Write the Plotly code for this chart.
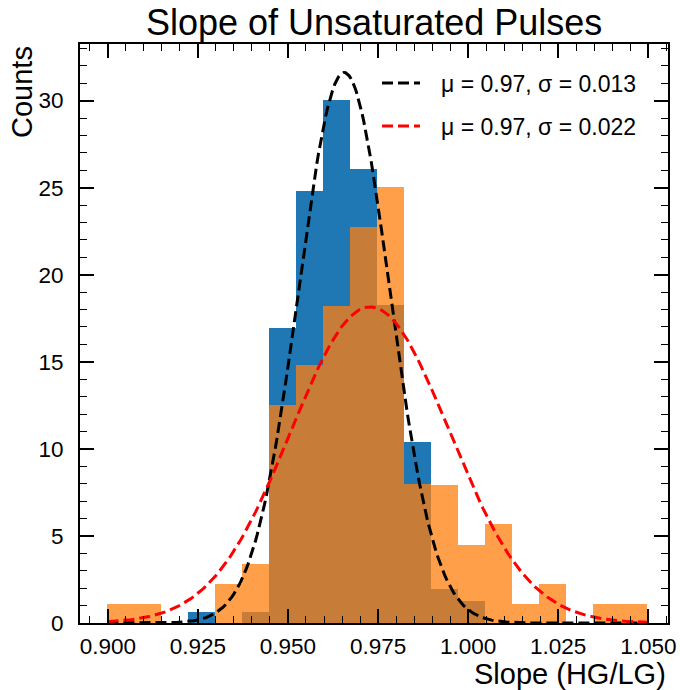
import numpy as np
import plotly.graph_objects as go

# ---- data ----
BIN_LO, BIN_HI, N_BINS = 0.8999, 1.0496, 20
# density heights per bin (blue = first sample, orange = second sample)
blue_heights = [0, 0, 0, 0.65, 0, 0.65, 16.94, 24.80, 30.03, 26.10, 18.26, 10.40,
                1.93, 1.25, 0, 0, 0, 0, 0, 0]
orange_heights = [1.12, 1.12, 0, 0, 2.26, 3.40, 12.51, 14.79, 18.23, 22.76, 25.06, 7.97,
                  7.95, 4.50, 5.66, 1.12, 2.26, 0, 1.12, 1.12]
# gaussian fit parameters (mean, sigma)
fit_black = (0.9656, 0.01262)
fit_red = (0.9728, 0.02198)
legend_labels = ["μ = 0.97, σ = 0.013", "μ = 0.97, σ = 0.022"]
x_ticks = [0.900, 0.925, 0.950, 0.975, 1.000, 1.025, 1.050]
y_ticks = [0, 5, 10, 15, 20, 25, 30]

edges = np.linspace(BIN_LO, BIN_HI, N_BINS + 1)
centers = 0.5 * (edges[:-1] + edges[1:])
bw = edges[1] - edges[0]

xc = np.linspace(BIN_LO, BIN_HI, 300)


def gauss(x, mu, s):
    return np.exp(-0.5 * ((x - mu) / s) ** 2) / (s * np.sqrt(2 * np.pi))


FONT = "Liberation Sans, Arial, Helvetica, sans-serif"
LEG_PAD = "\u2002\u2009"

fig = go.Figure()
fig.add_trace(go.Bar(x=centers, y=blue_heights, width=bw, marker=dict(color="#1f77b4", line=dict(width=0)),
                     showlegend=False))
fig.add_trace(go.Bar(x=centers, y=orange_heights, width=bw,
                     marker=dict(color="#ff7f0e", line=dict(width=0)), opacity=0.75, showlegend=False))
fig.add_trace(go.Scatter(x=xc, y=gauss(xc, *fit_black), mode="lines", name=LEG_PAD + legend_labels[0],
                         line=dict(color="black", width=3, dash="11px,5px"), legend="legend"))
fig.add_trace(go.Scatter(x=xc, y=gauss(xc, *fit_red), mode="lines", name=LEG_PAD + legend_labels[1],
                         line=dict(color="red", width=3, dash="11px,5px"), legend="legend2"))

axis_common = dict(showline=True, linecolor="black", linewidth=2, mirror="allticks",
                   ticks="inside", ticklen=14, tickwidth=1.5, tickcolor="black",
                   showgrid=False, zeroline=False, automargin=False,
                   tickfont=dict(family=FONT, size=22.5, color="black"))

leg_common = dict(xanchor="left", yanchor="middle", bgcolor="rgba(0,0,0,0)", borderwidth=0,
                  itemwidth=38, font=dict(family=FONT, size=23, color="black"))

fig.update_layout(
    width=680, height=690,
    margin=dict(l=80, r=12, t=44, b=67, autoexpand=False),
    paper_bgcolor="white", plot_bgcolor="white",
    barmode="overlay", bargap=0,
    font=dict(family=FONT, color="black"),
    xaxis=dict(range=[0.89228, 1.05547], tickvals=x_ticks, tickformat=".3f",
               minor=dict(ticks="inside", dtick=0.005, tick0=0.9, ticklen=7, tickwidth=1.2,
                          tickcolor="black"),
               ticklabelstandoff=2, **axis_common),
    yaxis=dict(range=[0, 33.25], tickvals=y_ticks,
               minor=dict(ticks="inside", dtick=1, ticklen=7, tickwidth=1.2, tickcolor="black"),
               ticklabelstandoff=10, **axis_common),
    legend=dict(x=(377 - 80) / 588, y=1 - (83 - 44) / 578.5, **leg_common),
    legend2=dict(x=(377 - 80) / 588, y=1 - (126 - 44) / 578.5, **leg_common),
    annotations=[
        dict(text="Slope of Unsaturated Pulses", x=0.5, y=1, xref="paper", yref="paper",
             xanchor="center", yanchor="bottom", yshift=-1, showarrow=False,
             font=dict(family=FONT, size=36, color="black")),
        dict(text="Slope (HG/LG)", x=1, y=0, xref="paper", yref="paper",
             xanchor="right", yanchor="top", yshift=-33, showarrow=False,
             font=dict(family=FONT, size=29, color="black")),
        dict(text="Counts", x=0, y=1, xref="paper", yref="paper", textangle=-90,
             xanchor="right", yanchor="top", xshift=-40, showarrow=False,
             font=dict(family=FONT, size=29, color="black")),
    ],
)

fig.write_html("out.html")
